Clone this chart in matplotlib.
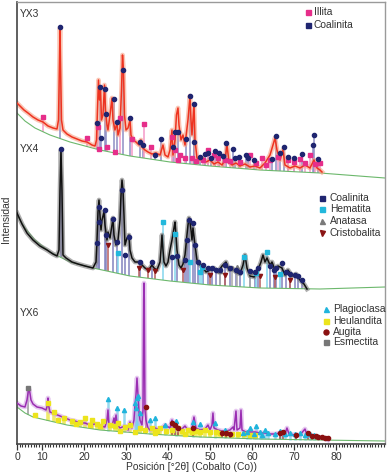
import numpy as np
import matplotlib
matplotlib.use('Agg')
import matplotlib.pyplot as plt
from matplotlib.ticker import MultipleLocator

plt.rcParams['font.family'] = ['Liberation Sans', 'DejaVu Sans']

# ---------------- axis ----------------
tick_pos = [4.05, 10, 20, 30, 40, 50, 60, 70, 80]
tick_labels = ['0', '10', '20', '30', '40', '50', '60', '70', '80']

# ---------------- YX3 ----------------
yx3_x = [4.05, 4.76, 5.71, 6.67, 7.86, 9.05, 10.24, 11.43, 12.62, 13.57, 13.93, 14.17, 14.29, 14.40, 14.64,
         15.0, 15.95, 17.14, 18.33, 19.52, 20.71, 21.9, 22.62, 22.98, 23.21, 23.45, 23.69, 23.93, 24.17, 24.52,
         24.88, 25.12, 25.48, 25.71, 26.19, 26.67, 26.9, 27.38, 27.86, 28.1, 28.57, 28.93, 29.17, 29.4, 29.64,
         30.0, 30.48, 30.95, 31.19, 31.67, 32.38, 33.1, 33.57, 33.81, 34.52, 35.24, 36.19, 37.14, 38.1, 38.81,
         39.29, 40.0, 40.48, 40.95, 41.19, 41.67, 42.02, 42.38, 42.62, 43.1, 43.57, 44.05, 44.76, 45.24, 45.48,
         45.71, 46.19, 46.43, 46.9, 47.62, 48.33, 49.05, 50.0, 50.95, 51.9, 52.86, 53.57, 54.05, 54.52, 55.24,
         56.19, 57.14, 58.33, 59.52, 60.71, 61.9, 63.1, 64.29, 65.0, 65.48, 65.95, 66.67, 67.38, 67.86, 69.05,
         70.24, 71.43, 72.62, 73.81, 74.76, 75.48, 76.19, 76.67]
yx3_y = [341, 338, 334, 331, 327, 324, 322, 318, 316, 315, 324, 384, 416, 384, 324,
         314, 310, 307, 305, 303, 302, 299, 298, 304, 334, 364, 344, 356, 324, 329,
         359, 334, 319, 314, 329, 346, 324, 314, 321, 309, 316, 354, 389, 374, 329,
         314, 316, 324, 309, 304, 302, 299, 304, 297, 294, 292, 290, 291, 289, 299,
         289, 287, 294, 314, 289, 304, 329, 336, 319, 304, 309, 299, 324, 348, 324,
         309, 340, 304, 286, 284, 286, 282, 284, 280, 282, 279, 284, 299, 282, 279,
         281, 278, 280, 277, 278, 276, 281, 289, 299, 306, 294, 284, 294, 279, 276,
         278, 276, 279, 276, 284, 276, 274, 272]
yx3_base_x = [4.05, 5.95, 8.33, 11.9, 16.67, 23.81, 30.95, 40.48, 50.0, 61.9, 76.19, 91.67]
yx3_base_y = [331, 323, 316, 309, 302, 294, 288, 282, 278, 274, 271, 266]

yx3_coal_x = [14.29, 23.81, 25.0, 27.14, 29.29, 23.1, 25.24, 27.86, 24.05, 30.95, 33.33, 34.05, 36.9, 38.33,
              41.67, 42.38, 41.19, 44.29, 45.24, 46.19, 46.19, 47.62, 48.81, 49.52, 50.24, 51.19, 52.14, 53.1,
              53.81, 55.48, 55.95, 56.9, 58.57, 59.05, 60.48, 64.76, 65.71, 66.67, 67.62, 68.57, 70.0, 71.9,
              74.52, 74.76, 75.71]
yx3_coal_y = [417, 357, 355, 345, 374, 321, 330, 322, 306, 326, 302, 299, 289, 305,
              312, 312, 297, 305, 348, 340, 302, 287, 290, 291, 286, 293, 291, 288,
              301, 295, 286, 287, 289, 286, 284, 285, 308, 291, 297, 287, 286, 290,
              299, 309, 285]
yx3_ill_x = [10.24, 20.71, 23.33, 23.57, 25.48, 27.38, 28.57, 31.43, 34.29, 35.95, 40.95, 41.67, 42.86, 44.05,
             45.71, 46.67, 49.52, 50.95, 53.57, 54.76, 59.52, 62.38, 64.29, 68.57, 71.43, 73.81, 76.19, 42.38,
             48.33, 51.9, 57.14, 60.95, 63.33, 66.19, 70.0, 72.62, 75.0]
yx3_ill_y = [327, 306, 317, 295, 297, 292, 326, 305, 320, 297, 307, 294, 289, 286,
             286, 283, 294, 289, 284, 283, 289, 286, 284, 284, 285, 289, 281, 284,
             284, 286, 282, 281, 279, 287, 282, 281, 280]

# ---------------- YX4 ----------------
yx4_x = [4.05, 5.24, 6.43, 7.86, 9.52, 11.19, 12.62, 13.57, 14.05, 14.29, 14.52, 14.76, 15.0, 15.71, 17.14,
         18.57, 20.24, 22.14, 22.86, 23.1, 23.33, 23.57, 23.81, 24.05, 24.29, 24.76, 25.0, 25.48, 25.71, 26.19,
         26.67, 26.9, 27.14, 27.62, 28.1, 28.57, 28.81, 29.05, 29.29, 29.52, 29.76, 30.24, 30.71, 30.95, 31.43,
         32.14, 33.1, 33.81, 34.52, 35.24, 35.71, 36.19, 36.67, 37.38, 38.1, 38.33, 38.57, 38.81, 39.05, 39.52,
         40.0, 40.48, 40.95, 41.43, 41.67, 41.9, 42.14, 42.62, 43.1, 43.57, 44.05, 44.52, 44.76, 45.0, 45.24,
         45.48, 45.71, 45.95, 46.43, 46.9, 47.62, 48.33, 49.05, 50.0, 50.95, 51.9, 52.86, 53.81, 54.52, 55.24,
         56.19, 57.14, 57.86, 58.33, 58.81, 59.52, 60.48, 61.43, 62.14, 62.62, 63.1, 63.57, 64.29, 64.76, 65.48,
         66.19, 67.14, 67.86, 68.57, 69.52, 70.48, 71.43, 72.38, 73.1]
yx4_y = [231, 220, 211, 204, 198, 194, 190, 188, 194, 254, 294, 254, 189, 186, 182,
         180, 178, 176, 182, 204, 232, 244, 229, 214, 224, 232, 219, 204, 212, 206,
         219, 226, 209, 199, 204, 224, 249, 264, 254, 229, 199, 206, 209, 194, 186,
         182, 182, 179, 176, 174, 176, 179, 176, 174, 182, 194, 209, 194, 182, 178,
         182, 194, 204, 216, 222, 209, 194, 179, 176, 180, 189, 209, 219, 226, 222,
         214, 204, 216, 199, 184, 179, 176, 172, 174, 176, 172, 178, 182, 174, 176,
         172, 170, 179, 189, 176, 168, 167, 174, 182, 189, 182, 186, 179, 182, 174,
         178, 176, 169, 174, 168, 170, 164, 160, 155]
yx4_base_x = [4.05, 5.95, 8.33, 11.9, 16.67, 22.14, 30.95, 40.48, 50.0, 61.9, 76.19, 91.67]
yx4_base_y = [229, 216, 204, 192, 182, 176, 168, 163, 159, 156, 155, 157]

yx4_coal_x = [14.52, 23.57, 25.0, 23.1, 23.57, 26.9, 29.05, 30.71, 27.86, 25.24, 29.76, 33.33, 36.19, 40.95,
              42.14, 44.05, 45.0, 45.95, 44.52, 46.43, 47.14, 48.33, 49.52, 50.48, 51.43, 52.38, 53.57, 54.76,
              56.19, 57.14, 59.52, 60.71, 61.43, 64.29, 65.24, 65.71, 67.14, 68.1, 69.05, 70.24, 70.95, 71.9]
yx4_coal_y = [295, 237, 234, 201, 222, 225, 254, 207, 202, 209, 189, 182, 182, 187,
              188, 184, 224, 221, 204, 199, 182, 179, 176, 176, 174, 174, 179, 176,
              174, 172, 173, 172, 176, 178, 174, 176, 181, 172, 170, 169, 168, 164]
yx4_hem_x = [28.1, 38.81, 41.67, 48.1, 58.1, 63.57, 45.24, 60.95, 66.67, 47.62]
yx4_hem_y = [191, 222, 210, 177, 187, 192, 182, 171, 170, 172]
yx4_ana_x = [55.24, 56.43, 52.38, 59.52]
yx4_ana_y = [176, 177, 173, 172]
yx4_cri_x = [25.71, 33.1, 36.9, 43.57, 50.0, 53.57, 61.9, 65.48, 69.05, 35.24]
yx4_cri_y = [199, 176, 173, 174, 169, 169, 168, 167, 164, 174]

# ---------------- YX6 ----------------
yx6_x = [4.05, 5.0, 5.95, 6.43, 6.79, 7.02, 7.38, 7.86, 8.81, 10.0, 10.95, 11.31, 11.43, 11.55, 11.9,
         13.1, 14.29, 15.48, 16.67, 17.86, 19.05, 20.24, 21.43, 22.62, 23.81, 25.0, 25.48, 25.71, 25.95, 26.67,
         27.14, 27.38, 27.62, 27.86, 28.57, 29.76, 30.48, 30.95, 31.43, 31.9, 32.14, 32.38, 32.62, 32.86, 33.1,
         33.33, 33.81, 34.05, 34.21, 34.29, 34.36, 34.52, 34.76, 35.24, 35.71, 36.9, 38.1, 39.29, 40.48, 40.95,
         41.43, 42.38, 43.33, 44.05, 44.76, 45.71, 46.19, 46.67, 47.62, 48.81, 49.52, 50.0, 50.48, 50.71, 50.95,
         51.9, 52.86, 53.81, 54.76, 55.48, 55.71, 56.19, 56.43, 57.14, 57.38, 57.62, 58.57, 59.52, 60.71, 61.9,
         63.1, 64.29, 65.48, 66.67, 67.86, 68.33, 68.81, 70.24, 71.43, 72.62, 73.1, 74.29, 75.71, 77.14, 78.1]
yx6_y = [41, 38, 37, 44, 54, 54, 44, 40, 37, 36, 34, 39, 46, 39, 32,
         30, 28, 26, 24, 23, 21, 21, 19, 20, 18, 17, 24, 34, 19, 18,
         26, 20, 29, 20, 16, 18, 14, 22, 16, 24, 39, 49, 66, 49, 32,
         24, 19, 34, 144, 161, 144, 34, 24, 16, 14, 16, 14, 19, 16, 24,
         16, 14, 15, 18, 14, 15, 27, 16, 14, 15, 19, 14, 19, 31, 16,
         14, 13, 13, 14, 17, 14, 33, 14, 16, 34, 14, 12, 12, 12, 11,
         11, 10, 10, 11, 10, 16, 10, 9, 9, 15, 9, 8, 7, 6, 4]
yx6_base_x = [4.05, 5.95, 7.86, 11.9, 15.95, 23.81, 35.71, 47.62, 61.9, 76.19, 91.67]
yx6_base_y = [37, 31, 27, 23, 19, 14, 10, 7, 5, 4, 3]

yx6_pla_x = [25.71, 27.86, 29.52, 32.14, 32.62, 32.86, 32.38, 33.33, 35.71, 36.9, 39.29, 41.9, 45.95, 47.62,
             51.19, 53.57, 57.86, 59.52, 60.95, 61.9, 62.38, 63.1, 63.81, 65.48, 66.67, 67.86, 69.05, 70.24,
             71.43, 72.62, 73.81, 74.76, 58.81, 60.48]
yx6_pla_y = [45, 36, 34, 41, 46, 48, 36, 31, 24, 26, 19, 23, 22, 20,
             21, 14, 11, 16, 18, 12, 9, 14, 11, 10, 13, 10, 11, 10,
             11, 9, 10, 9, 12, 10]
yx6_heu_x = [11.43, 8.33, 12.86, 13.81, 15.24, 17.14, 18.1, 19.05, 20.24, 21.43, 21.9, 23.1, 23.81, 24.52,
             26.19, 27.38, 28.1, 28.57, 29.76, 30.95, 32.14, 33.33, 34.52, 36.19, 36.9, 37.38, 38.1, 39.52,
             40.95, 42.38, 43.33, 44.05, 44.76, 45.71, 46.67, 47.62, 48.81, 50.0, 51.43, 52.38, 53.81, 55.24,
             56.67, 58.1, 59.52, 60.71]
yx6_heu_y = [41, 29, 32, 24, 26, 23, 20, 22, 26, 19, 24, 20, 18, 23,
             19, 18, 21, 13, 17, 19, 12, 16, 14, 16, 11, 13, 16, 13,
             14, 16, 13, 10, 14, 12, 13, 12, 14, 12, 12, 11, 11, 10,
             10, 10, 9, 9]
yx6_aug_x = [34.76, 40.95, 41.67, 42.38, 45.95, 52.86, 53.81, 54.76, 66.67, 67.38, 70.48, 73.33, 74.29, 75.24,
             75.71, 76.67, 77.38, 78.1]
yx6_aug_y = [37, 21, 19, 16, 16, 11, 11, 10, 11, 12, 9, 11, 8, 8,
             7, 7, 6, 6]
yx6_esm_x = [6.67]
yx6_esm_y = [56]

# ---------------- drawing ----------------
fig = plt.figure(figsize=(3.87, 4.73), dpi=100)
ax = fig.add_axes([17 / 387, 29 / 473, 368 / 387, 442 / 473])
ax.set_xlim(4.05, 91.67)
ax.set_ylim(0, 442)


def sticks(xs, ys, bx, by, color, lw=1.4, alpha=0.8, z=1):
    bottoms = np.interp(xs, bx, by)
    ax.vlines(xs, bottoms, ys, colors=color, lw=lw, alpha=alpha, zorder=z)


def marks(xs, ys, color, marker, ms=3.0, z=4):
    ax.plot(xs, ys, ls='none', marker=marker, color=color, ms=ms, mec=color, zorder=z)


def trace(xs, ys, color, halo):
    ax.plot(xs, ys, color=halo, lw=3.4, alpha=0.6, zorder=2, solid_joinstyle='round')
    ax.plot(xs, ys, color=color, lw=1.1, zorder=3)


# baselines
for bx, by in [(yx3_base_x, yx3_base_y), (yx4_base_x, yx4_base_y), (yx6_base_x, yx6_base_y)]:
    ax.plot(bx, by, color='#6cb86c', lw=0.8, zorder=1.5)

# YX3
sticks(yx3_coal_x, yx3_coal_y, yx3_base_x, yx3_base_y, '#9090c4')
sticks(yx3_ill_x, yx3_ill_y, yx3_base_x, yx3_base_y, '#f49ac8')
trace(yx3_x, yx3_y, '#ee3320', '#f7a085')
marks(yx3_ill_x, yx3_ill_y, '#e62e8a', 's')
marks(yx3_coal_x, yx3_coal_y, '#1f2570', 'o')

# YX4
sticks(yx4_coal_x, yx4_coal_y, yx4_base_x, yx4_base_y, '#8484c0')
sticks(yx4_hem_x, yx4_hem_y, yx4_base_x, yx4_base_y, '#86d6ee')
sticks(yx4_ana_x, yx4_ana_y, yx4_base_x, yx4_base_y, '#aaaaaa')
sticks(yx4_cri_x, yx4_cri_y, yx4_base_x, yx4_base_y, '#b86060')
trace(yx4_x, yx4_y, '#111111', '#7a7a7a')
marks(yx4_cri_x, yx4_cri_y, '#8a1414', 'v')
marks(yx4_ana_x, yx4_ana_y, '#7a7a7a', '^')
marks(yx4_hem_x, yx4_hem_y, '#22b8dc', 's')
marks(yx4_coal_x, yx4_coal_y, '#1f2570', 'o')

# YX6
sticks(yx6_pla_x, yx6_pla_y, yx6_base_x, yx6_base_y, '#7cd0ea', lw=1.8)
sticks(yx6_heu_x, yx6_heu_y, yx6_base_x, yx6_base_y, '#eee85a', lw=2.6, alpha=0.9)
sticks(yx6_aug_x, yx6_aug_y, yx6_base_x, yx6_base_y, '#a84848')
sticks(yx6_esm_x, yx6_esm_y, yx6_base_x, yx6_base_y, '#999999')
trace(yx6_x, yx6_y, '#9a2eb2', '#d6a6e6')
marks(yx6_heu_x, yx6_heu_y, '#ece41c', 's', ms=3.4)
marks(yx6_pla_x, yx6_pla_y, '#20b4dc', '^')
marks(yx6_aug_x, yx6_aug_y, '#8a1010', 'o')
marks(yx6_esm_x, yx6_esm_y, '#777777', 's')

# sample labels
txt = '#333333'
for lab, fy in [('YX3', 0.973), ('YX4', 0.667), ('YX6', 0.296)]:
    ax.text(0.008, fy, lab, transform=ax.transAxes, fontsize=7.4, color=txt, va='center', ha='left')

# legends
def legend(entries, mx, tx, fys):
    for (label, color, marker), fy in zip(entries, fys):
        ax.plot([mx], [fy], transform=ax.transAxes, marker=marker, color=color, ms=3.6,
                ls='none', clip_on=False, zorder=6)
        ax.text(tx, fy, label, transform=ax.transAxes, fontsize=7.4, color=txt, va='center', ha='left')

legend([('Illita', '#e62e8a', 's'), ('Coalinita', '#1f2570', 's')], 0.791, 0.807, [0.977, 0.9475])
legend([('Coalinita', '#1f2570', 's'), ('Hematita', '#22b8dc', 's'),
        ('Anatasa', '#7a7a7a', '^'), ('Cristobalita', '#8a1414', 'v')],
       0.829, 0.8505, [0.5566, 0.5317, 0.5045, 0.4774])
legend([('Plagioclasa', '#20b4dc', '^'), ('Heulandita', '#ece41c', 's'),
        ('Augita', '#8a1010', 'o'), ('Esmectita', '#777777', 's')],
       0.8397, 0.8587, [0.3054, 0.2783, 0.2534, 0.2308])

# axes styling
ax.set_yticks([])
ax.set_xticks(tick_pos)
ax.set_xticklabels(tick_labels, fontsize=7.6, color=txt)
ax.xaxis.set_minor_locator(MultipleLocator(2 / 3))
ax.tick_params(axis='x', which='major', length=4, width=0.9, pad=2, colors='#333333')
ax.tick_params(axis='x', which='minor', length=2, width=0.8, colors='#333333')
for s in ['left', 'bottom']:
    ax.spines[s].set_color('#444444')
    ax.spines[s].set_linewidth(1.2)
for s in ['top', 'right']:
    ax.spines[s].set_color('#9a9a9a')
    ax.spines[s].set_linewidth(1.0)

fig.text(6 / 387, 1 - 219 / 473, 'Intensidad', rotation=90, fontsize=7.4, color=txt, ha='center', va='center')
fig.text(191 / 387, 1 - 467 / 473, 'Posición [°2θ] (Cobalto (Co))', fontsize=7.4, color=txt,
         ha='center', va='center')

fig.savefig('out.png', dpi=100)
